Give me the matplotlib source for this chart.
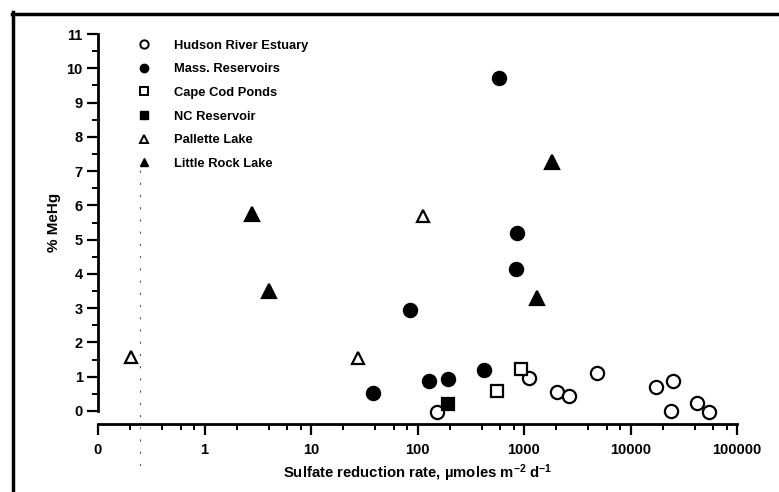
import matplotlib
matplotlib.use("Agg")
import matplotlib.pyplot as plt
from matplotlib.lines import Line2D
from matplotlib.ticker import FixedLocator, FixedFormatter

plt.rcParams['font.family'] = ['Liberation Sans', 'DejaVu Sans']
plt.rcParams['font.weight'] = 'bold'
plt.rcParams['mathtext.fontset'] = 'custom'
plt.rcParams['mathtext.rm'] = 'Liberation Sans:bold'
plt.rcParams['mathtext.default'] = 'rm'

# data
hudson_x = [151, 1114, 2027, 2650, 4820, 17340, 24900, 24000, 41900, 55000]
hudson_y = [-0.04, 0.95, 0.55, 0.45, 1.12, 0.69, 0.87, 0.0, 0.22, -0.02]

mass_x = [38.5, 129, 195, 424, 85, 841, 853, 582]
mass_y = [0.52, 0.88, 0.92, 1.2, 2.96, 4.13, 5.18, 9.72]

capecod_x = [561, 931]
capecod_y = [0.58, 1.22]

nc_x = [192]
nc_y = [0.2]

pallette_x = [0.204, 27.4, 113.5]
pallette_y = [1.58, 1.54, 5.68]

littlerock_x = [2.81, 4.06, 1334, 1820]
littlerock_y = [5.76, 3.5, 3.31, 7.27]

xticks = [0.1, 1, 10, 100, 1000, 10000, 100000]
xtick_labels = ["0", "1", "10", "100", "1000", "10000", "100000"]

fig = plt.figure(figsize=(7.79, 4.92), dpi=100)
ax = fig.add_axes([98 / 779, 1 - 411 / 492, (737 - 98) / 779, (411 - 34) / 492])

ms = 9.5
kw = dict(linestyle='none', clip_on=False, markeredgewidth=1.6, color='black')
ax.plot(hudson_x, hudson_y, marker='o', markersize=ms, markerfacecolor='white', **kw)
ax.plot(mass_x, mass_y, marker='o', markersize=ms, markerfacecolor='black', **kw)
ax.plot(capecod_x, capecod_y, marker='s', markersize=8, markerfacecolor='white', **kw)
ax.plot(nc_x, nc_y, marker='s', markersize=8, markerfacecolor='black', **kw)
ax.plot(pallette_x, pallette_y, marker='^', markersize=9, markerfacecolor='white', **kw)
ax.plot(littlerock_x, littlerock_y, marker='^', markersize=9.5, markerfacecolor='black', **kw)

ax.set_xscale('log')
ax.set_xlim(0.1, 100000)
ax.set_ylim(0, 11)

for s in ['top', 'right']:
    ax.spines[s].set_visible(False)
ax.spines['left'].set_linewidth(2)
ax.spines['bottom'].set_linewidth(2)
ax.spines['left'].set_bounds(0, 11)
ax.spines['bottom'].set_position(('outward', 9))

ax.xaxis.set_major_locator(FixedLocator(xticks))
ax.xaxis.set_major_formatter(FixedFormatter(xtick_labels))
minors = [m * 10.0 ** e for e in range(-1, 5) for m in (2, 4, 6, 8)]
ax.xaxis.set_minor_locator(FixedLocator(minors))
ax.xaxis.set_minor_formatter(FixedFormatter([""] * len(minors)))
ax.set_yticks(range(0, 12))
ax.set_yticks([i + 0.5 for i in range(11)], minor=True)

ax.tick_params(which='major', length=8, width=1.6, labelsize=10.5, pad=3)
ax.tick_params(which='minor', length=4, width=1.4)
ax.tick_params(axis='x', which='major', pad=6)

ax.set_ylabel("% MeHg", fontsize=11, fontweight='bold', labelpad=4)
ax.set_xlabel("Sulfate reduction rate, \u00b5moles m$^{-2}$ d$^{-1}$", fontsize=10.7,
              fontweight='bold', labelpad=4)

handles = [
    Line2D([], [], marker='o', linestyle='none', color='black', markerfacecolor='white', markersize=6, markeredgewidth=1.4),
    Line2D([], [], marker='o', linestyle='none', color='black', markerfacecolor='black', markersize=6),
    Line2D([], [], marker='s', linestyle='none', color='black', markerfacecolor='white', markersize=5.5, markeredgewidth=1.4),
    Line2D([], [], marker='s', linestyle='none', color='black', markerfacecolor='black', markersize=5.5),
    Line2D([], [], marker='^', linestyle='none', color='black', markerfacecolor='white', markersize=6, markeredgewidth=1.4),
    Line2D([], [], marker='^', linestyle='none', color='black', markerfacecolor='black', markersize=6),
]
labels = ["Hudson River Estuary", "Mass. Reservoirs", "Cape Cod Ponds",
          "NC Reservoir", "Pallette Lake", "Little Rock Lake"]
ax.legend(handles, labels, loc='upper left', bbox_to_anchor=(131 / 779, 1 - 33 / 492),
          bbox_transform=fig.transFigure, frameon=False, fontsize=9.3,
          handlelength=1.0, handletextpad=1.8, labelspacing=0.9, borderpad=0)

# vertical dashed stroke from the scan
fig.add_artist(Line2D([140 / 779, 140 / 779], [1 - 170 / 492, 1 - 470 / 492],
                      color='0.35', linewidth=0.8, dashes=(2, 9)))

# page frame edges
fig.add_artist(Line2D([13 / 779, 13 / 779], [0, 1 - 12 / 492], color='black', linewidth=2.5))
fig.add_artist(Line2D([12 / 779, 1], [1 - 14 / 492, 1 - 14 / 492], color='black', linewidth=2.5))

fig.savefig("out.png", dpi=100)
